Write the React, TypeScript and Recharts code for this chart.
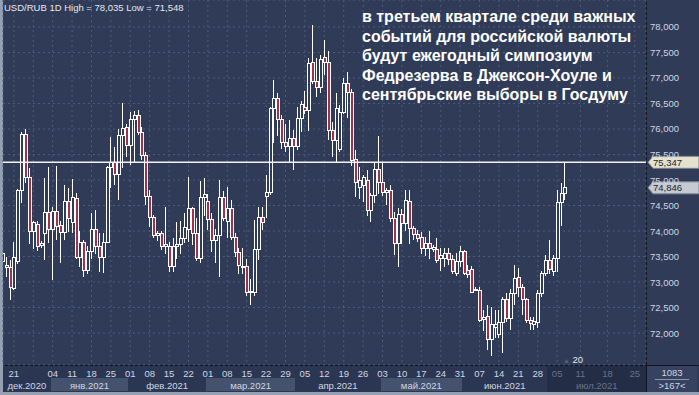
import { Bar, CartesianGrid, ComposedChart, ReferenceLine, XAxis, YAxis } from "recharts";

// daily candles, 18 dec 2020 .. 07 jul 2021
const opens = [
  73.4, 73.33, 73.29, 72.88, 73.4, 74.8, 75.9, 75.04, 74.0, 74.13, 73.72, 73.96, 74.36, 74.02, 74.38, 74.1,
  73.98, 74.57, 74.16, 74.63, 73.49, 73.78, 73.22, 73.59, 74.02, 73.7, 73.49, 73.78, 75.24, 75.35, 75.1, 75.88,
  76.02, 75.67, 76.18, 76.27, 75.94, 75.49, 74.67, 74.27, 73.92, 73.96, 73.69, 73.69, 73.3, 73.69, 73.73, 73.86,
  74.02, 74.45, 73.96, 73.47, 74.65, 74.57, 74.22, 73.82, 73.92, 74.65, 74.18, 74.45, 73.88, 73.57, 73.3, 73.3,
  72.8, 72.8, 73.63, 74.27, 74.67, 74.75, 76.41, 76.59, 76.18, 75.73, 75.65, 75.82, 75.65, 76.2, 76.43, 76.37,
  77.31, 76.94, 76.82, 77.41, 77.31, 75.98, 75.78, 75.6, 76.33, 76.9, 76.71, 75.41, 74.86, 74.9, 75.0, 74.41,
  74.69, 75.2, 74.96, 74.75, 74.8, 74.25, 73.76, 74.33, 74.14, 74.57, 74.04, 73.94, 73.88, 73.65, 73.76, 73.63,
  73.63, 73.47, 73.47, 73.55, 73.45, 73.16, 73.41, 73.59, 73.22, 73.24, 72.86, 72.84, 72.27, 72.33, 71.88, 72.1,
  71.98, 72.2, 72.65, 72.29, 72.78, 73.08, 72.9, 72.65, 72.25, 72.16, 72.2, 72.78, 73.16, 73.43, 73.2, 73.47,
  74.55, 74.73,
];
const highs = [
  73.88, 73.49, 73.43, 73.78, 74.82, 75.94, 76.0, 75.24, 74.2, 74.2, 73.8, 75.04, 75.25, 74.47, 75.27, 74.2,
  74.9, 74.84, 75.02, 74.75, 74.0, 73.82, 73.7, 74.35, 74.41, 73.96, 73.96, 75.27, 75.84, 75.65, 76.0, 76.51,
  76.1, 76.33, 76.35, 76.37, 76.04, 75.55, 74.8, 74.31, 74.0, 74.0, 74.47, 73.78, 73.86, 74.18, 74.2, 74.35,
  75.06, 74.47, 74.25, 74.98, 75.04, 74.73, 74.35, 74.04, 75.0, 74.78, 74.86, 74.61, 73.96, 73.67, 73.67, 73.45,
  73.06, 74.22, 74.47, 74.47, 75.1, 76.43, 76.96, 76.71, 76.27, 76.1, 76.18, 75.98, 76.43, 76.55, 76.75, 77.39,
  78.035, 77.39, 77.45, 77.75, 77.53, 76.14, 76.71, 76.47, 77.0, 77.12, 76.78, 75.59, 75.25, 75.1, 75.2, 74.75,
  75.33, 75.86, 75.33, 74.84, 74.9, 74.37, 74.45, 74.43, 74.8, 74.8, 74.1, 74.02, 73.98, 73.88, 74.0, 73.73,
  73.86, 73.67, 73.67, 73.67, 73.53, 73.57, 73.71, 73.63, 73.33, 73.31, 72.9, 72.9, 72.45, 72.55, 72.51, 72.45,
  72.45, 72.71, 72.78, 72.86, 73.33, 73.27, 72.96, 72.69, 72.31, 72.31, 72.84, 73.22, 73.53, 73.82, 73.53, 74.8,
  74.94, 75.347,
];
const lows = [
  73.29, 73.1, 72.65, 72.84, 73.35, 74.55, 74.94, 73.75, 73.64, 73.6, 73.66, 73.43, 73.76, 73.04, 73.82, 73.37,
  73.82, 73.98, 73.96, 73.45, 73.29, 73.1, 73.16, 73.45, 73.55, 73.2, 73.18, 73.76, 74.84, 74.9, 74.6, 75.24,
  75.45, 75.3, 75.33, 75.88, 75.4, 74.51, 74.08, 73.86, 73.8, 73.63, 73.55, 73.2, 73.2, 73.45, 73.55, 73.76,
  73.78, 73.73, 73.41, 73.37, 74.3, 74.02, 73.59, 73.37, 73.1, 74.2, 73.86, 73.82, 73.49, 73.16, 73.16, 72.73,
  72.55, 72.73, 73.43, 74.02, 74.25, 74.7, 75.73, 75.86, 75.61, 75.55, 75.35, 75.2, 75.59, 75.94, 76.29, 75.96,
  76.88, 76.63, 76.71, 77.06, 75.78, 75.45, 75.33, 75.55, 76.29, 76.22, 75.27, 74.67, 74.63, 74.57, 74.29, 74.18,
  74.55, 74.73, 74.69, 74.51, 74.18, 73.53, 73.3, 73.75, 74.0, 73.75, 73.82, 73.78, 73.55, 73.51, 73.45, 73.59,
  73.37, 73.22, 73.29, 73.33, 73.16, 73.12, 73.29, 73.14, 73.08, 72.78, 72.82, 72.22, 72.04, 71.67, 71.548, 71.9,
  71.9, 71.61, 72.22, 72.06, 72.55, 72.71, 72.35, 72.2, 72.06, 72.06, 72.1, 72.71, 73.12, 73.16, 73.12, 73.2,
  74.1, 74.61,
];
const closes = [
  73.55, 73.29, 72.9, 73.49, 74.8, 75.9, 75.04, 74.0, 74.16, 73.7, 73.76, 74.36, 74.02, 74.38, 74.08, 73.98,
  74.57, 74.25, 74.65, 73.49, 73.78, 73.22, 73.59, 74.02, 73.7, 73.49, 73.78, 75.24, 75.35, 75.1, 75.88, 76.0,
  75.67, 76.18, 76.27, 75.94, 75.49, 74.67, 74.27, 73.92, 73.96, 73.69, 73.74, 73.3, 73.69, 73.73, 73.86, 74.06,
  74.45, 73.96, 73.47, 74.65, 74.71, 74.22, 73.82, 73.92, 74.65, 74.25, 74.45, 73.88, 73.57, 73.33, 73.29, 72.8,
  72.82, 73.63, 74.27, 74.16, 74.75, 76.41, 76.59, 76.18, 75.73, 75.65, 75.82, 75.65, 76.2, 76.49, 76.37, 77.29,
  76.94, 76.82, 77.37, 77.31, 75.98, 75.78, 76.41, 76.33, 76.9, 76.71, 75.39, 74.96, 75.0, 75.04, 74.41, 74.69,
  75.2, 74.96, 74.75, 74.8, 74.25, 73.76, 74.33, 74.14, 74.59, 74.04, 73.94, 73.86, 73.65, 73.76, 73.65, 73.67,
  73.43, 73.51, 73.55, 73.45, 73.2, 73.41, 73.59, 73.16, 73.14, 72.8, 72.84, 72.25, 72.31, 71.88, 72.16, 72.16,
  72.2, 72.65, 72.29, 72.78, 73.06, 72.9, 72.65, 72.25, 72.18, 72.22, 72.78, 73.16, 73.43, 73.24, 73.47, 74.55,
  74.73, 74.846,
];

// weekly ticks (candle index of the monday) and their labels
const dayTickIdx = [3, 8, 13, 18, 23, 28, 33, 38, 43, 48, 53, 58, 63, 68, 73, 78, 83, 88, 93, 98, 103, 108, 113, 118, 123, 128, 133, 138, 143, 149, 156, 163];
const dayTickLabels = ["21", "", "04", "11", "18", "25", "01", "08", "15", "22", "01", "08", "15", "22", "29", "05", "12", "19", "26", "03", "10", "17", "24", "31", "07", "14", "21", "28", "05", "11", "18", "25"];

const monthNames = ["дек.2020", "янв.2021", "фев.2021", "мар.2021", "апр.2021", "май.2021", "июн.2021", "июл.2021"];
const monthBounds = [0.2, 12.5, 32.5, 52.5, 75.5, 97.5, 118.5, 140.5, 165.9];

const priceTicks = [72, 72.5, 73, 73.5, 74, 74.5, 75, 75.5, 76, 76.5, 77, 77.5, 78];
const lastHigh = 75.347;
const lastClose = 74.846;

const titleLines = [
  "в третьем квартале среди важных",
  "событий для российской валюты",
  "будут ежегодный симпозиум",
  "Федрезерва в Джексон-Хоуле и",
  "сентябрьские выборы в Госдуму",
];

const W = 699;
const H = 395;
const PLOT_L = 3;
const PLOT_R = 646;
const PLOT_B = 365;
const X_DOMAIN: [number, number] = [0.2, 165.9];
const Y_DOMAIN: [number, number] = [71.373, 78.529];
const FUTURE_FROM = 140.5;

const BG = "#2f3b57";
const RED = "#a3304a";
const TEXT = "#cfd6e2";
const DIM = "#68738c";
const FONT = "'Liberation Sans', Arial, sans-serif";

const rows = opens.map((o, i) => ({
  i,
  open: o,
  high: highs[i],
  low: lows[i],
  close: closes[i],
  range: [lows[i], highs[i]],
}));

const monthCenters = monthNames.map((_, k) => (monthBounds[k] + monthBounds[k + 1]) / 2);

// axis band decoration only
const xPx = (v: number) => PLOT_L + ((v - X_DOMAIN[0]) / (X_DOMAIN[1] - X_DOMAIN[0])) * (PLOT_R - PLOT_L);

const fmt = (v: number) => v.toFixed(3).replace(".", ",");

function Candle(props: any) {
  const { x, y, width, height, payload } = props;
  if (x == null || !payload) return null;
  const top = Math.min(y, y + height);
  const bot = Math.max(y, y + height);
  const span = payload.high - payload.low || 1;
  const toY = (v: number) => top + ((payload.high - v) / span) * (bot - top);
  const cx = Math.round(x + width / 2) + 0.5;
  const up = payload.close >= payload.open;
  const bTop = toY(Math.max(payload.open, payload.close));
  const bBot = toY(Math.min(payload.open, payload.close));
  return (
    <g shapeRendering="crispEdges">
      <line x1={cx} x2={cx} y1={top} y2={bot} stroke="#ffffff" strokeWidth={1} />
      <rect
        x={cx - 1.5}
        y={bTop}
        width={3}
        height={Math.max(bBot - bTop, 1)}
        fill={up ? BG : RED}
        stroke="#ffffff"
        strokeWidth={1}
      />
    </g>
  );
}

function DayTick(props: any) {
  const { x, y, payload } = props;
  const k = dayTickIdx.indexOf(payload.value);
  const label = k >= 0 ? dayTickLabels[k] : "";
  return (
    <text x={x} y={y + 12} textAnchor="middle" fontSize={9.5} fontFamily={FONT} fill={payload.value > FUTURE_FROM ? DIM : TEXT}>
      {label}
    </text>
  );
}

function MonthTick(props: any) {
  const { x, y, payload } = props;
  const k = monthCenters.indexOf(payload.value);
  return (
    <text x={x} y={y + 10} textAnchor="middle" fontSize={9.5} fontFamily={FONT} fill={payload.value > FUTURE_FROM ? DIM : TEXT}>
      {k >= 0 ? monthNames[k] : ""}
    </text>
  );
}

function PriceTick(props: any) {
  const { x, y, payload } = props;
  return (
    <text x={x} y={y + 3.5} fontSize={9.5} fontFamily={FONT} fill={TEXT}>
      {fmt(payload.value)}
    </text>
  );
}

function priceTag(value: number, fill: string) {
  return (p: any) => {
    const vb = p.viewBox || {};
    const tx = (vb.x ?? PLOT_L) + (vb.width ?? PLOT_R - PLOT_L) + 2;
    const ty = vb.y ?? 0;
    return (
      <g>
        <path
          d={`M${tx} ${ty} L${tx + 5} ${ty - 6} H${tx + 51} V${ty + 6} H${tx + 5} Z`}
          fill={fill}
          stroke="#7d8594"
          strokeWidth={1}
        />
        <text x={tx + 5} y={ty + 3.5} fontSize={9.5} fontFamily={FONT} fill="#1c2230">
          {fmt(value)}
        </text>
      </g>
    );
  };
}

export default function App() {
  return (
    <div style={{ position: "absolute", left: 0, top: 0, width: W, height: H, background: "#95a0b3", fontFamily: FONT }}>
      <div style={{ position: "absolute", left: 3, top: 0, width: W - 3, height: 392, background: BG }} />
      {/* axis band */}
      <div style={{ position: "absolute", left: 3, top: PLOT_B, width: PLOT_R - 3, height: 27, background: "#2b3652" }} />
      {monthNames.map((m, k) =>
        k % 2 === 1 ? (
          <div
            key={m}
            style={{
              position: "absolute",
              left: xPx(monthBounds[k]),
              top: monthBounds[k] > FUTURE_FROM - 1 ? PLOT_B + 1 : 378,
              width: xPx(monthBounds[k + 1]) - xPx(monthBounds[k]),
              height: monthBounds[k] > FUTURE_FROM - 1 ? 26 : 13,
              background: monthBounds[k] > FUTURE_FROM - 1 ? "#232d45" : "#45526e",
            }}
          />
        ) : null
      )}
      <div style={{ position: "absolute", left: PLOT_R + 1, top: PLOT_B, width: W - PLOT_R - 3, height: 27, background: "#36425f" }} />
      <div style={{ position: "absolute", left: PLOT_R, top: 0, width: 1, height: 392, background: "#10151f" }} />
      <div style={{ position: "absolute", left: 3, top: PLOT_B, width: W - 3, height: 1, background: "#10151f" }} />

      <div style={{ position: "absolute", left: 0, top: 0 }}>
        <ComposedChart width={W} height={H} data={rows} margin={{ top: 0, right: 0, bottom: 0, left: PLOT_L }}>
          <CartesianGrid xAxisId="day" stroke="#4d5c7c" strokeDasharray="2 3" />
          <XAxis
            xAxisId="day"
            type="number"
            dataKey="i"
            domain={X_DOMAIN}
            allowDataOverflow
            ticks={dayTickIdx}
            interval={0}
            tick={<DayTick />}
            tickSize={0}
            tickMargin={0}
            axisLine={false}
            tickLine={false}
            height={14}
          />
          <XAxis
            xAxisId="month"
            type="number"
            dataKey="i"
            domain={X_DOMAIN}
            allowDataOverflow
            ticks={monthCenters}
            interval={0}
            tick={<MonthTick />}
            tickSize={0}
            tickMargin={0}
            axisLine={false}
            tickLine={false}
            height={16}
          />
          <YAxis
            orientation="right"
            type="number"
            domain={Y_DOMAIN}
            allowDataOverflow
            ticks={priceTicks}
            interval={0}
            width={W - PLOT_R}
            tick={<PriceTick />}
            tickSize={0}
            tickMargin={4}
            axisLine={false}
            tickLine={false}
          />
          <Bar xAxisId="day" dataKey="range" barSize={3} shape={<Candle />} isAnimationActive={false} />
          <ReferenceLine xAxisId="day" y={lastHigh} stroke="#f2f2f2" strokeWidth={1.5} label={priceTag(lastHigh, "#e4e2cc")} />
          <ReferenceLine xAxisId="day" y={lastClose} stroke="none" label={priceTag(lastClose, "#c5c9d2")} />
        </ComposedChart>
      </div>

      <div style={{ position: "absolute", left: 4, top: 2, fontSize: 9.5, color: "#e4e8ef", whiteSpace: "nowrap" }}>
        USD/RUB 1D High = 78,035 Low = 71,548
      </div>

      <div
        style={{
          position: "absolute",
          left: 362,
          top: 7,
          color: "#ffffff",
          fontWeight: 700,
          fontSize: 16,
          lineHeight: "19.5px",
          whiteSpace: "nowrap",
        }}
      >
        {titleLines.map((l) => (
          <div key={l}>{l}</div>
        ))}
      </div>

      <div style={{ position: "absolute", left: 563, top: 354, fontSize: 9.5, color: "#e4e8ef", whiteSpace: "nowrap" }}>
        <span style={{ color: "#56617a", fontSize: 7 }}>▲</span> 20
      </div>

      <div style={{ position: "absolute", left: PLOT_R + 1, top: PLOT_B + 2, width: 50, textAlign: "center", fontSize: 9.5, color: TEXT, lineHeight: "11px" }}>
        <div style={{ borderBottom: "1px solid #8d97aa", margin: "0 8px", paddingBottom: 1 }}>1083</div>
        <div>&gt;167&lt;</div>
      </div>
    </div>
  );
}
